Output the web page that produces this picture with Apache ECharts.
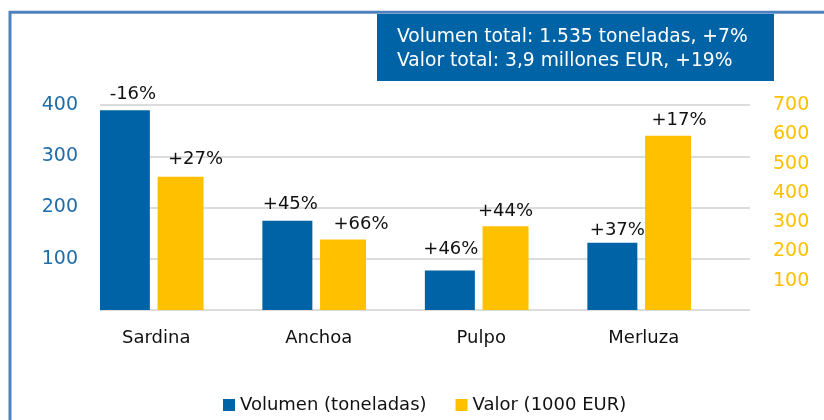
<!DOCTYPE html>
<html>
<head>
<meta charset="utf-8">
<script src="https://cdn.jsdelivr.net/npm/echarts@6/dist/echarts.min.js"></script>
<style>
  html, body { margin: 0; padding: 0; background: #ffffff; }
  #chart { width: 824px; height: 420px; }
</style>
</head>
<body>
<div id="chart"></div>
<script>
// ---- data ----
const categories = ['Sardina', 'Anchoa', 'Pulpo', 'Merluza'];
const volumen = [390, 174, 77, 131];          // toneladas (left axis)
const valor = [455, 241, 286, 595];           // 1000 EUR (right axis)
const volumenChange = ['-16%', '+45%', '+46%', '+37%'];
const valorChange = ['+27%', '+66%', '+44%', '+17%'];
const leftTicks = [0, 100, 200, 300, 400];
const rightTicks = [0, 100, 200, 300, 400, 500, 600, 700];
const seriesNames = ['Volumen (toneladas)', 'Valor (1000 EUR)'];
const summaryLines = ['Volumen total: 1.535 toneladas, +7%', 'Valor total: 3,9 millones EUR, +19%'];

// ---- style / placement (not data) ----
const FONT = 'DejaVu Sans';
const BLUE = '#0063A6';
const GOLD = '#FFC000';
const volNudge = [[8, -2], [3, -2], [1, -7], [5, 1]];
const valNudge = [[15, -3], [18, -1], [0, -1], [11, -1]];

const chart = echarts.init(document.getElementById('chart'), null, { renderer: 'canvas' });

function items(values, texts, nudges) {
  return values.map((v, i) => ({
    value: v,
    label: { formatter: texts[i], offset: nudges[i] }
  }));
}

const labelStyle = {
  show: true,
  position: 'top',
  distance: 5,
  fontFamily: FONT,
  fontSize: 18,
  color: '#111111'
};

const option = {
  animation: false,
  backgroundColor: '#ffffff',
  textStyle: { fontFamily: FONT },
  grid: { left: 100, right: 74, top: 105, bottom: 110, containLabel: false },
  legend: {
    data: seriesNames,
    left: 218,
    top: 391,
    icon: 'rect',
    itemWidth: 12,
    itemHeight: 12,
    itemGap: 29,
    textStyle: { fontFamily: FONT, fontSize: 18, color: '#111111' }
  },
  xAxis: {
    type: 'category',
    data: categories,
    axisLine: { show: false },
    axisTick: { show: false },
    axisLabel: {
      margin: 19,
      formatter: v => '{c|' + v + '}',
      rich: { c: { fontFamily: FONT, fontSize: 18, color: '#111111', padding: [0, 50, 0, 0] } }
    }
  },
  yAxis: [
    {
      type: 'value',
      min: leftTicks[0],
      max: leftTicks[leftTicks.length - 1],
      interval: leftTicks[1] - leftTicks[0],
      axisLine: { show: false },
      axisTick: { show: false },
      splitLine: { show: true, lineStyle: { color: '#DCDCDC', width: 2 } },
      axisLabel: {
        margin: 22,
        fontFamily: FONT,
        fontSize: 19,
        color: '#1F6DA8',
        formatter: v => (v === 0 ? '' : String(v))
      }
    },
    {
      type: 'value',
      min: rightTicks[0],
      max: rightTicks[rightTicks.length - 1],
      interval: rightTicks[1] - rightTicks[0],
      axisLine: { show: false },
      axisTick: { show: false },
      splitLine: { show: false },
      axisLabel: {
        margin: 23,
        fontFamily: FONT,
        fontSize: 19,
        color: GOLD,
        formatter: v => (v === 0 ? '' : String(v))
      }
    }
  ],
  series: [
    {
      name: seriesNames[0],
      type: 'bar',
      yAxisIndex: 0,
      barWidth: 50,
      barGap: '15.4%',
      itemStyle: { color: BLUE },
      label: labelStyle,
      data: items(volumen, volumenChange, volNudge)
    },
    {
      name: seriesNames[1],
      type: 'bar',
      yAxisIndex: 1,
      barWidth: 46,
      barGap: '15.4%',
      itemStyle: { color: GOLD },
      label: labelStyle,
      data: items(valor, valorChange, valNudge)
    },
    {
      // empty spacer so the bar pair sits at the left of each category band
      name: 'spacer',
      type: 'bar',
      yAxisIndex: 0,
      barWidth: 52,
      barGap: '15.4%',
      silent: true,
      data: categories.map(() => null)
    }
  ],
  graphic: [
    {
      type: 'polyline',
      shape: { points: [[10, 440], [10, 12.3], [860, 12.3]] },
      style: { fill: null, stroke: '#4F81BD', lineWidth: 3 },
      z: 100
    },
    {
      type: 'rect',
      shape: { x: 377, y: 14, width: 397, height: 67 },
      style: { fill: BLUE },
      z: 101
    },
    {
      type: 'text',
      x: 397,
      y: 25,
      style: {
        text: summaryLines.join('\n'),
        fontFamily: FONT,
        fontSize: 18.7,
        lineHeight: 24,
        fill: '#ffffff'
      },
      z: 102
    }
  ]
};

chart.setOption(option);
</script>
</body>
</html>
